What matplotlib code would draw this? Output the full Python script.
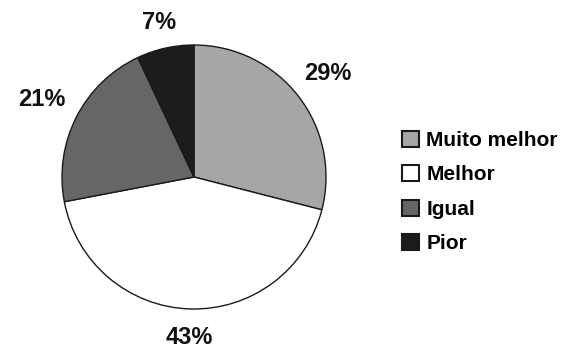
import matplotlib
matplotlib.use("Agg")
import numpy as np
import matplotlib.pyplot as plt

categories = ["Muito melhor", "Melhor", "Igual", "Pior"]
values = [29, 43, 21, 7]
colors = ["#a6a6a6", "#ffffff", "#666666", "#1c1c1c"]
# radial placement of each percentage label, as a multiple of the radius
label_dist = [1.28, 1.22, 1.29, 1.20]

plt.rcParams["font.family"] = ["Liberation Sans", "DejaVu Sans"]

fig = plt.figure(figsize=(5.71, 3.52), dpi=100)
ax = fig.add_axes([0, 0, 1, 1])

cx, cy, r = 194, 175, 132
wedges, texts, autotexts = ax.pie(
    values,
    colors=colors,
    startangle=90,
    counterclock=False,
    center=(cx, cy),
    radius=r,
    autopct="%d%%",
    pctdistance=1.25,
    wedgeprops=dict(edgecolor="#1a1a1a", linewidth=1.0),
    textprops=dict(fontsize=17, fontweight="bold", color="#111111"),
    frame=True,
)
for w, t, d in zip(wedges, autotexts, label_dist):
    ang = np.deg2rad((w.theta1 + w.theta2) / 2)
    t.set_position((cx + d * r * np.cos(ang), cy + d * r * np.sin(ang)))

ax.set_xlim(0, 571)
ax.set_ylim(0, 352)
ax.set_aspect("equal")
ax.axis("off")

leg = ax.legend(
    wedges,
    categories,
    loc="center left",
    bbox_to_anchor=(402 / 571, 1 - 192 / 352),
    bbox_transform=fig.transFigure,
    frameon=False,
    borderpad=0,
    borderaxespad=0,
    handlelength=0.82,
    handleheight=0.82,
    handletextpad=0.35,
    labelspacing=0.72,
    prop=dict(size=15, weight="bold"),
)
for h in leg.legend_handles:
    h.set_linewidth(1.5)

fig.savefig("out.png", dpi=100)
